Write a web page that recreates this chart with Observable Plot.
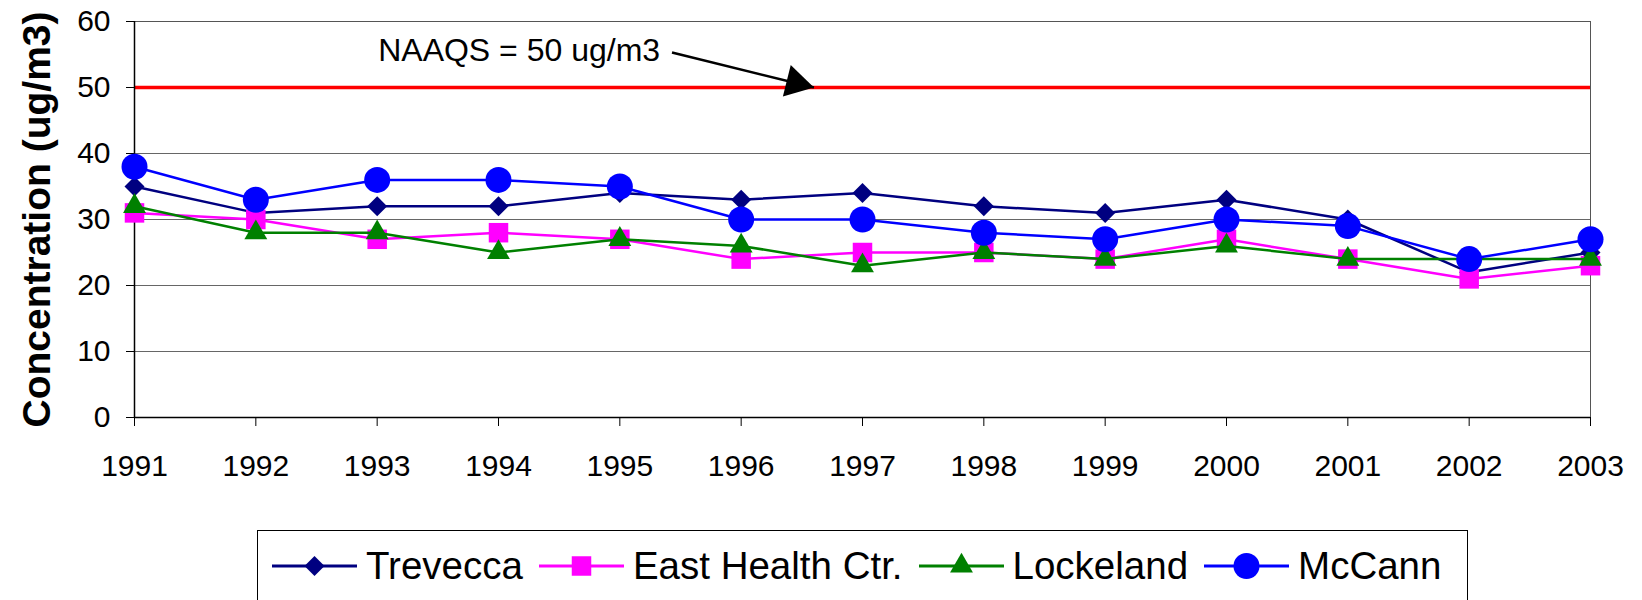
<!DOCTYPE html>
<html>
<head>
<meta charset="utf-8">
<script src="https://cdn.jsdelivr.net/npm/d3@7"></script>
<script src="https://cdn.jsdelivr.net/npm/@observablehq/plot@0.6"></script>
<style>
  body { margin: 0; background: #fff; font-family: "Liberation Sans", Arial, sans-serif; }
  #wrap { position: relative; width: 1642px; height: 600px; overflow: hidden; background: #fff; }
  #chart { position: absolute; left: 0; top: 0; }
  #legend {
    position: absolute; left: 257px; top: 530px; width: 1211px; height: 72px;
    box-sizing: border-box; border: 1.5px solid #000; background: #fff;
    display: flex; align-items: center; padding-left: 14px; gap: 16px;
  }
  .item { display: flex; align-items: center; }
  .item span { font-size: 38.5px; color: #000; margin-left: 9px; line-height: 40px; }
</style>
</head>
<body>
<div id="wrap">
  <div id="chart"></div>
  <div id="legend"></div>
</div>
<script>
// ---- data ----
const years = [1991, 1992, 1993, 1994, 1995, 1996, 1997, 1998, 1999, 2000, 2001, 2002, 2003];
const seriesNames = ["Trevecca", "East Health Ctr.", "Lockeland", "McCann"];
const trevecca   = [35, 31, 32, 32, 34, 33, 34, 32, 31, 33, 30, 22, 25];
const eastHealth = [31, 30, 27, 28, 27, 24, 25, 25, 24, 27, 24, 21, 23];
const lockeland  = [32, 28, 28, 25, 27, 26, 23, 25, 24, 26, 24, 24, 24];
const mccann     = [38, 33, 36, 36, 35, 30, 30, 28, 27, 30, 29, 24, 27];
const yTicks = [0, 10, 20, 30, 40, 50, 60];
const naaqs = 50;
const yTitle = "Concentration (ug/m3)";
const annotationLabel = "NAAQS = 50 ug/m3";
const annotationText = [{x: 1994.17, y: 55.55, label: annotationLabel}];
const annotationArrow = [{x1: 1995.43, y1: 55.3, x2: 1996.6, y2: naaqs}];

// ---- styles ----
const colors  = ["#000080", "#FF00FF", "#008000", "#0000FF"];
const symbols = ["diamond2", "square", "triangle", "circle"];
const radii   = [9, 11, 8.5, 13];
const d3Symbols = {diamond2: d3.symbolDiamond2, square: d3.symbolSquare, triangle: d3.symbolTriangle, circle: d3.symbolCircle};

const values = [trevecca, eastHealth, lockeland, mccann];
const table = seriesNames.flatMap((name, i) => years.map((year, j) => ({series: name, year, value: values[i][j]})));

const marks = [
  Plot.gridY({ticks: yTicks, stroke: "#666", strokeOpacity: 1, strokeWidth: 1}),
  Plot.frame({stroke: "#555", strokeWidth: 1}),
  Plot.ruleY([naaqs], {stroke: "#FF0000", strokeWidth: 3.5}),
  Plot.ruleY([0], {stroke: "#000", strokeWidth: 1.5}),
  Plot.ruleX([years[0]], {stroke: "#000", strokeWidth: 1.5}),
  Plot.axisY({ticks: yTicks, tickSize: 8, tickPadding: 16, label: null, tickFormat: d => String(d)}),
  Plot.axisX({ticks: years, tickSize: 9, tickPadding: 28, label: null, tickFormat: d => String(d)}),
  Plot.text([yTitle], {text: d => d, frameAnchor: "left", dx: -97, rotate: -90, fontSize: 39, fontWeight: "bold", textAnchor: "middle", lineAnchor: "middle", fill: "#000"}),
  Plot.text(annotationText, {x: "x", y: "y", text: "label", fontSize: 32, textAnchor: "middle", lineAnchor: "middle", fill: "#000"}),
  Plot.link(annotationArrow, {x1: "x1", y1: "y1", x2: "x2", y2: "y2", stroke: "#000", strokeWidth: 2.5}),
  Plot.dot(annotationArrow, {x: "x2", y: "y2", symbol: "triangle", r: 12, fill: "#000", stroke: "none", rotate: 104, dx: -18.1, dy: -4.5})
];

seriesNames.forEach((name, i) => {
  const rows = table.filter(d => d.series === name);
  marks.push(Plot.line(rows, {x: "year", y: "value", stroke: colors[i], strokeWidth: 2.5}));
  marks.push(Plot.dot(rows, {x: "year", y: "value", symbol: symbols[i], r: radii[i], fill: colors[i], stroke: "none"}));
});

const chart = Plot.plot({
  width: 1642,
  height: 500,
  marginTop: 21,
  marginBottom: 83,
  marginLeft: 134,
  marginRight: 52,
  style: {fontFamily: "'Liberation Sans', Arial, sans-serif", fontSize: "30px", color: "#000", background: "#fff", overflow: "visible"},
  x: {domain: [years[0], years[years.length - 1]], axis: null},
  y: {domain: [yTicks[0], yTicks[yTicks.length - 1]], axis: null},
  marks
});
document.getElementById("chart").appendChild(chart);

// ---- legend ----
const legend = d3.select("#legend");
seriesNames.forEach((name, i) => {
  const item = legend.append("div").attr("class", "item");
  const svg = item.append("svg").attr("width", 85).attr("height", 30);
  svg.append("line").attr("x1", 0).attr("x2", 85).attr("y1", 15).attr("y2", 15)
     .attr("stroke", colors[i]).attr("stroke-width", 3);
  svg.append("path")
     .attr("d", d3.symbol(d3Symbols[symbols[i]], Math.PI * radii[i] * radii[i])())
     .attr("transform", "translate(42.5,15)")
     .attr("fill", colors[i]);
  item.append("span").text(name);
});
</script>
</body>
</html>
